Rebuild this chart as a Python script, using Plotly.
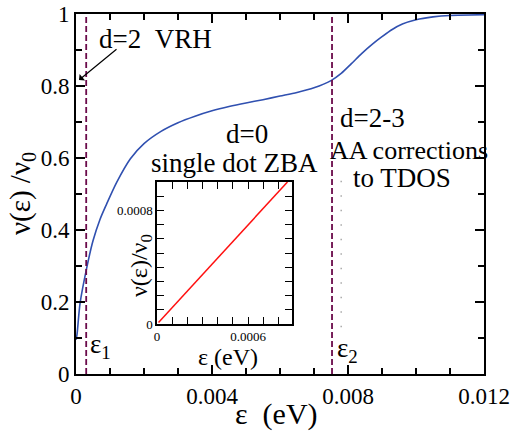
import plotly.graph_objects as go

# ---- data ----
eps = [0.0, 0.00003, 0.00012, 0.00032, 0.0005, 0.0007, 0.0009, 0.0012, 0.0016,
       0.002, 0.0025, 0.003, 0.0035, 0.004, 0.0045, 0.005, 0.0055, 0.006,
       0.0065, 0.007, 0.0075, 0.0078, 0.0081, 0.0084, 0.0087, 0.009, 0.0093,
       0.0096, 0.0100, 0.0105, 0.0110, 0.0120]
nu = [0.095, 0.110, 0.197, 0.297, 0.370, 0.428, 0.472, 0.533, 0.598,
      0.640, 0.674, 0.698, 0.716, 0.731, 0.743, 0.753, 0.762, 0.772,
      0.782, 0.795, 0.815, 0.835, 0.862, 0.890, 0.915, 0.937, 0.957,
      0.972, 0.984, 0.992, 0.996, 0.998]

inset_eps = [0.00001, 0.00086]
inset_nu = [0.00001, 0.001]

eps1 = 0.0003
eps2 = 0.00753
dotted_x = 0.0078
dotted_y = [0.13, 0.55]

x_ticks = [0, 0.004, 0.008, 0.012]
x_ticktext = ["0", "0.004", "0.008", "0.012"]
y_ticks = [0, 0.2, 0.4, 0.6, 0.8, 1.0]
y_ticktext = ["0", "0.2", "0.4", "0.6", "0.8", "1"]
ix_ticks = [0, 0.0006]
ix_ticktext = ["0", "0.0006"]
iy_ticks = [0, 0.0008]
iy_ticktext = ["0", "0.0008"]

W, H = 513, 433
L, R, T, B = 76, 484, 14, 374

def px(x):
    return (x - L) / (R - L)

def py(y):
    return (B - y) / (B - T)

SERIF = "Liberation Serif"
MAROON = "#6b0a4a"

fig = go.Figure()
fig.add_trace(go.Scatter(x=eps, y=nu, mode="lines",
                         line=dict(color="#3050b0", width=1.6, shape="spline", smoothing=0.8),
                         showlegend=False, hoverinfo="skip"))
for e in (eps1, eps2):
    fig.add_trace(go.Scatter(x=[e, e], y=[0, 1], mode="lines",
                             line=dict(color=MAROON, width=1.8, dash="6px,3px"),
                             showlegend=False, hoverinfo="skip"))
fig.add_trace(go.Scatter(x=[dotted_x, dotted_x], y=dotted_y, mode="lines",
                         line=dict(color="#aaaaaa", width=1.5, dash="1.5px,13px"),
                         showlegend=False, hoverinfo="skip"))
fig.add_trace(go.Scatter(x=inset_eps, y=inset_nu, xaxis="x2", yaxis="y2", mode="lines",
                         line=dict(color="#ff1010", width=1.5), showlegend=False, hoverinfo="skip"))

def tfont(size):
    return dict(family=SERIF, size=size, color="black")

axis_common = dict(showgrid=False, zeroline=False, showline=True, linecolor="black",
                   ticks="inside", mirror="ticks", tickcolor="black", tickfont=tfont(23))

inset_common = dict(showgrid=False, zeroline=False, showline=True, linecolor="black", linewidth=1.5,
                    ticks="inside", mirror="ticks", ticklen=7, tickwidth=1, tickcolor="black",
                    tickfont=tfont(13))

fig.update_layout(template="none")
fig.update_layout(
    width=W, height=H,
    margin=dict(l=L, r=W - R, t=T, b=H - B),
    paper_bgcolor="white", plot_bgcolor="white",
    xaxis=dict(range=[0, 0.012], tickmode="array", tickvals=x_ticks, ticktext=x_ticktext,
               linewidth=2, ticklen=9, tickwidth=1.5,
               minor=dict(tickmode="linear", tick0=0, dtick=0.001, ticklen=6, tickwidth=1.5,
                          ticks="inside", tickcolor="black"),
               **axis_common),
    yaxis=dict(range=[0, 1], tickmode="array", tickvals=y_ticks, ticktext=y_ticktext,
               linewidth=2, ticklen=9, tickwidth=1.5,
               minor=dict(tickmode="linear", tick0=0, dtick=0.1, ticklen=6, tickwidth=1.5,
                          ticks="inside", tickcolor="black"),
               **axis_common),
    xaxis2=dict(domain=[px(157), px(292)], anchor="y2", range=[0, 0.00089],
                tickmode="array", tickvals=ix_ticks, ticktext=ix_ticktext,
                minor=dict(tickmode="linear", tick0=0, dtick=0.0001, ticklen=7, tickwidth=1,
                           ticks="inside", tickcolor="black"),
                **inset_common),
    yaxis2=dict(domain=[py(324), py(182)], anchor="x2", range=[0, 0.001],
                tickmode="array", tickvals=iy_ticks, ticktext=iy_ticktext,
                minor=dict(tickmode="linear", tick0=0, dtick=0.0001, ticklen=7, tickwidth=1,
                           ticks="inside", tickcolor="black"),
                **inset_common),
    font=tfont(20),
)

def txt(x, y, s, size, angle=0):
    fig.add_annotation(x=px(x), y=py(y), xref="paper", yref="paper", text=s, showarrow=False,
                       font=tfont(size), textangle=angle,
                       xanchor="center", yanchor="middle")

txt(155.5, 39, "d=2&nbsp;&nbsp;VRH", 27)
txt(247, 134, "d=0", 27)
txt(234.5, 163, "single dot ZBA", 27)
txt(372, 118, "d=2-3", 27)
txt(409, 150, "AA corrections", 26)
txt(402, 178, "to TDOS", 27)
txt(100, 346, "ε<sub>1</sub>", 27)
txt(347, 350, "ε<sub>2</sub>", 27)
txt(276, 414, "ε&nbsp;&nbsp;(eV)", 30)
txt(22, 194, "ν(ε) /ν<sub>0</sub>", 29, -90)
txt(228, 357, "ε (eV)", 24)
txt(141, 266, "ν(ε)/ν<sub>0</sub>", 24, -90)

# arrow for VRH
fig.add_annotation(x=(79 - L) / (R - L) * 0.012, y=(B - 80) / (B - T),
                   ax=(118 - L) / (R - L) * 0.012, ay=(B - 48) / (B - T),
                   xref="x", yref="y", axref="x", ayref="y", text="", showarrow=True,
                   arrowhead=1, arrowsize=1.2, arrowwidth=1.2, arrowcolor="black")

fig.write_html("out.html")
